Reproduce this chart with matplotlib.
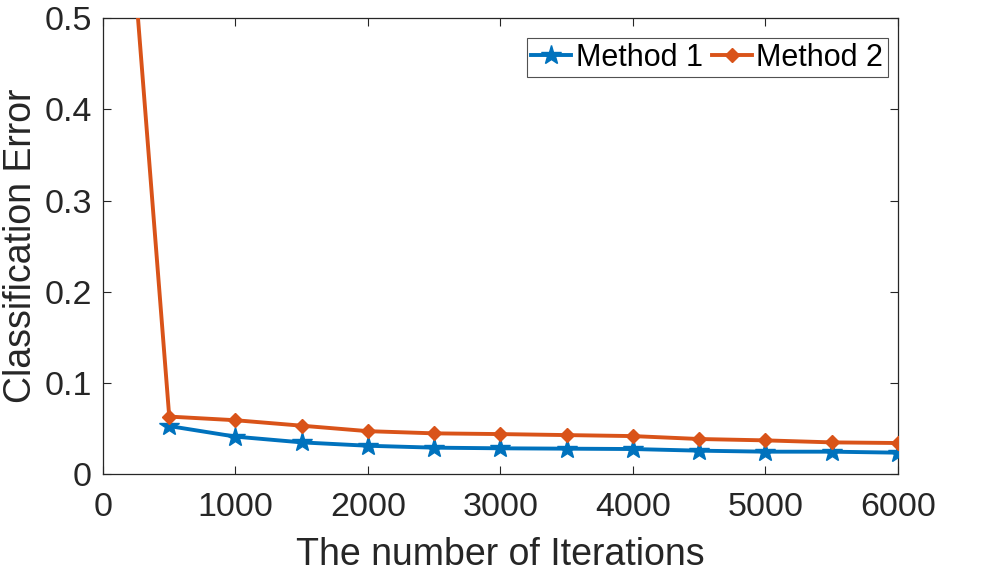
import numpy as np
import matplotlib
matplotlib.use("Agg")
import matplotlib.pyplot as plt

plt.rcParams['font.family'] = ['Liberation Sans', 'DejaVu Sans']

# iterations and classification error
iters_m1 = [500, 1000, 1500, 2000, 2500, 3000, 3500, 4000, 4500, 5000, 5500, 6000]
err_m1 = [0.0526, 0.041, 0.0347, 0.031, 0.0289, 0.0282, 0.0278, 0.0274, 0.0256, 0.0245, 0.0245, 0.0234]

iters_m2 = [0, 500, 1000, 1500, 2000, 2500, 3000, 3500, 4000, 4500, 5000, 5500, 6000]
err_m2 = [0.99, 0.063, 0.059, 0.053, 0.047, 0.0446, 0.0438, 0.0427, 0.0416, 0.0384, 0.0369, 0.0347, 0.034]

xticks = [0, 1000, 2000, 3000, 4000, 5000, 6000]
yticks = [0, 0.1, 0.2, 0.3, 0.4, 0.5]
ytick_labels = ['0', '0.1', '0.2', '0.3', '0.4', '0.5']

fig = plt.figure(figsize=(9.95, 5.74), dpi=100)
ax = fig.add_axes([0.1035, 0.1742, 0.799, 0.794])

ax.plot(iters_m1, err_m1, color='#0072BD', lw=2.8, marker='*', ms=15, label='Method 1', zorder=3)
ax.plot(iters_m2, err_m2, color='#D95319', lw=2.8, marker='D', ms=7, label='Method 2', zorder=4)

ax.set_xlim(0, 6000)
ax.set_ylim(0, 0.5)
ax.set_xticks(xticks)
ax.set_yticks(yticks)
ax.set_yticklabels(ytick_labels)
ax.tick_params(direction='in', top=True, right=True, length=6, width=0.8,
               labelsize=24.5, colors='#262626')
ax.tick_params(axis='x', pad=13)
ax.tick_params(axis='y', pad=8)
for s in ax.spines.values():
    s.set_linewidth(0.9)
    s.set_color('#262626')

ax.set_xlabel('The number of Iterations', fontsize=27, color='#262626', labelpad=10)
ax.set_ylabel('Classification Error', fontsize=27, color='#262626', labelpad=4)

leg = ax.legend(loc='upper right', bbox_to_anchor=(0.987, 0.956), ncol=2, fontsize=22,
                frameon=True, fancybox=False, handlelength=1.3, handletextpad=0.15,
                columnspacing=0.3, borderpad=0.15, borderaxespad=0.0)
leg.get_frame().set_edgecolor('#262626')
leg.get_frame().set_linewidth(0.8)

fig.savefig('out.png', dpi=100)
